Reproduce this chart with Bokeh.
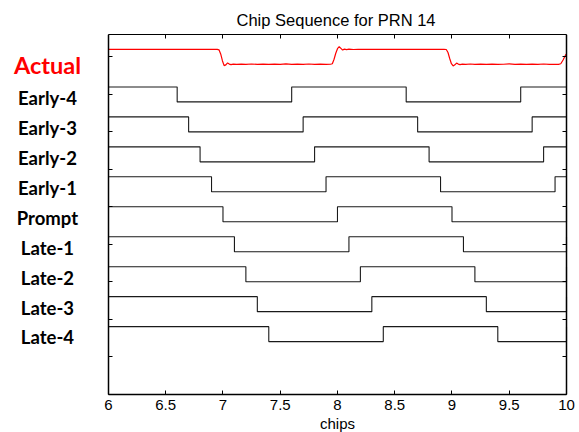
from bokeh.plotting import figure
from bokeh.models import LinearAxis, FixedTicker, Range1d
from bokeh.core.properties import value
from bokeh.embed import file_html
from bokeh.resources import INLINE

# ---- data ----
title_text = "Chip Sequence for PRN 14"
x_label = "chips"
x_ticks = [6, 6.5, 7, 7.5, 8, 8.5, 9, 9.5, 10]
x_tick_labels = ["6", "6.5", "7", "7.5", "8", "8.5", "9", "9.5", "10"]
y_ticks = [0, 5, 10, 15, 20, 25, 30, 35, 40, 45]

# PRN 14 chips (index and +/-1 value)
chip_index = [5, 6, 7, 8, 9, 10, 11]
chip_values = [1, 1, -1, 1, -1, 1, 1]

row_names = ["Early-4", "Early-3", "Early-2", "Early-1", "Prompt",
             "Late-1", "Late-2", "Late-3", "Late-4"]
row_offsets = [40, 36, 32, 28, 24, 20, 16, 12, 8]
row_shifts = [-0.4, -0.3, -0.2, -0.1, 0.0, 0.1, 0.2, 0.3, 0.4]

actual_name = "Actual"
actual_offset = 45
actual_x = [6.00, 6.25, 6.50, 6.75, 6.95, 6.965, 6.98, 6.995, 7.01, 7.025, 7.04, 7.055,
            7.07, 7.09, 7.12, 7.16, 7.20, 7.25, 7.30, 7.35, 7.40, 7.45, 7.50, 7.55,
            7.60, 7.65, 7.70, 7.75, 7.80, 7.85, 7.90, 7.94, 7.955, 7.97, 7.985, 8.00,
            8.015, 8.03, 8.045, 8.06, 8.08, 8.10, 8.14, 8.18, 8.22, 8.28, 8.35, 8.45,
            8.55, 8.65, 8.75, 8.85, 8.93, 8.95, 8.965, 8.98, 8.995, 9.01, 9.025, 9.04,
            9.055, 9.07, 9.09, 9.12, 9.16, 9.20, 9.25, 9.30, 9.35, 9.40, 9.45, 9.50,
            9.55, 9.60, 9.65, 9.70, 9.75, 9.80, 9.85, 9.90, 9.93, 9.95, 9.97, 9.99, 10.0]
actual_y = [1.02, 1.02, 1.01, 1.02, 1.02, 0.95, 0.40, -0.50, -1.15, -1.05, -0.80, -0.95,
            -1.02, -0.95, -1.00, -0.96, -0.99, -0.94, -0.98, -0.95, -1.00, -0.96, -0.98, -0.93,
            -0.99, -0.96, -0.98, -0.94, -0.99, -0.96, -0.98, -0.97, -0.90, -0.30, 0.50, 1.10,
            1.37, 1.15, 0.92, 1.05, 0.98, 1.04, 1.00, 1.03, 1.01, 1.03, 1.02, 1.03,
            1.01, 1.02, 1.02, 1.02, 1.02, 1.00, 0.60, -0.20, -0.90, -1.20, -1.05, -0.82,
            -0.95, -1.02, -0.96, -0.99, -0.94, -0.99, -0.96, -1.00, -0.95, -0.99, -0.97, -0.93,
            -0.99, -0.96, -1.00, -0.95, -0.98, -0.94, -1.00, -0.97, -0.98, -0.90, -0.40, 0.20, 0.40]

# positions of the outside texts (chips / row units)
label_x = 5.467
xlabel_y = -3.93

x_lo, x_hi = x_ticks[0], x_ticks[-1]
y_lo, y_hi = 0, 48

# ---- figure ----
p = figure(width=579, height=432, x_range=Range1d(5.127, 10.1135), y_range=Range1d(-5.133, y_hi),
           output_backend="svg", toolbar_location=None,
           min_border_left=8, min_border_right=0, min_border_top=34, min_border_bottom=0)
p.grid.visible = False
p.outline_line_color = None
p.background_fill_color = "white"
p.border_fill_color = "white"

p.title.text = title_text
p.title.align = "left"
p.title.offset = 228
p.title.text_font = "Liberation Sans"
p.title.text_font_size = "16.5px"
p.title.text_font_style = "normal"
p.title.text_color = "black"
p.title.standoff = 11


def hide_labels(ax):
    ax.major_label_text_color = None
    ax.major_label_text_font_size = "1px"
    ax.major_label_standoff = 0


xa = p.xaxis[0]
xa.ticker = FixedTicker(ticks=x_ticks)
xa.fixed_location = y_lo
xa.bounds = (x_lo, x_hi)
xa.major_label_overrides = {t: l for t, l in zip(x_ticks, x_tick_labels)}
xa.major_tick_in = 4
xa.major_tick_out = 0
xa.minor_tick_line_color = None
xa.major_label_text_font = "Liberation Sans"
xa.major_label_text_font_size = "15px"
xa.major_label_text_color = "black"
xa.major_label_standoff = 6
xa.axis_line_width = 1.5
xa.axis_line_color = "black"

ya = p.yaxis[0]
ya.ticker = FixedTicker(ticks=y_ticks)
ya.fixed_location = x_lo
ya.bounds = (y_lo, y_hi)
ya.major_tick_in = 4
ya.major_tick_out = 0
ya.minor_tick_line_color = None
hide_labels(ya)
ya.axis_line_width = 1.5
ya.axis_line_color = "black"

ra = LinearAxis(ticker=FixedTicker(ticks=y_ticks), fixed_location=x_hi, bounds=(y_lo, y_hi),
                major_tick_in=4, major_tick_out=0, minor_tick_line_color=None,
                axis_line_color="black", axis_line_width=1.5)
hide_labels(ra)
p.add_layout(ra, "right")
ta = LinearAxis(ticker=FixedTicker(ticks=x_ticks), bounds=(x_lo, x_hi), major_tick_in=4,
                major_tick_out=0, minor_tick_line_color=None, axis_line_color="black",
                axis_line_width=1)
hide_labels(ta)
p.add_layout(ta, "above")

# chip rows
for name, off, sh in zip(row_names, row_offsets, row_shifts):
    xs = [min(max(c + sh, x_lo), x_hi) for c in chip_index]
    ys = [off + v for v in chip_values]
    p.step(xs, ys, mode="after", line_color="#1a1a1a", line_width=1.1)

# actual
p.line(actual_x, [actual_offset + v for v in actual_y], line_color="red", line_width=1.2)

# row labels
p.text(x=[label_x] * len(row_names), y=[o - 0.45 for o in row_offsets], text=row_names,
       text_align="center", text_baseline="middle", text_font=value("Lato"),
       text_font_style="bold", text_font_size=value("18.5px"), text_color="black")
p.text(x=[label_x], y=[actual_offset - 1.1], text=[actual_name],
       text_align="center", text_baseline="middle", text_font=value("Lato"),
       text_font_style="bold", text_font_size=value("23.5px"), text_color="red")

# x axis label
p.text(x=[(x_lo + x_hi) / 2], y=[xlabel_y], text=[x_label], text_align="center",
       text_baseline="middle", text_font=value("Liberation Sans"),
       text_font_size=value("15px"), text_color="black")

open("out.html", "w").write(file_html(p, INLINE))
